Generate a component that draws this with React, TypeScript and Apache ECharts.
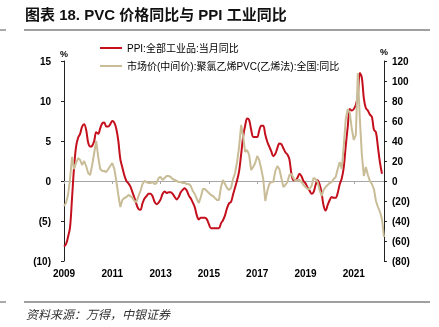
import React, { useEffect, useRef } from 'react';
import * as echarts from 'echarts';

// Monthly categories: Jul 2009 .. Oct 2022
const months: string[] = [];
for (let i = 0; i < 160; i++) {
  const y = 2009 + Math.floor((6 + i) / 12);
  const m = ((6 + i) % 12) + 1;
  months.push(`${y}-${m < 10 ? '0' + m : m}`);
}

const xTickLabels = ['2009', '2011', '2013', '2015', '2017', '2019', '2021'];
const leftTickLabels = ['(10)', '(5)', '0', '5', '10', '15'];
const rightTickLabels = ['(80)', '(60)', '(40)', '(20)', '0', '20', '40', '60', '80', '100', '120'];

const ppiName = 'PPI:全部工业品:当月同比';
const pvcName = '市场价(中间价):聚氯乙烯PVC(乙烯法):全国:同比';

// PPI yoy (%), Jul 2009 .. Sep 2022
const ppi = [
  -8.2, -7.9, -7.0, -5.8, -2.1, 1.7,
  4.3, 5.4, 5.9, 6.8, 7.1, 6.4, 4.8, 4.3, 4.4, 5.0, 6.1, 5.9,
  6.6, 7.2, 7.3, 6.8, 6.8, 7.1, 7.5, 7.3, 6.5, 5.0, 2.7, 1.7,
  0.7, 0.0, -0.3, -0.7, -1.4, -2.1, -2.9, -3.5, -3.6, -2.8, -2.2, -1.9,
  -1.6, -1.6, -1.9, -2.6, -2.9, -2.7, -2.3, -1.6, -1.3, -1.5, -1.4, -1.4,
  -1.6, -2.0, -2.3, -2.0, -1.4, -1.1, -0.9, -1.2, -1.8, -2.2, -2.7, -3.3,
  -4.3, -4.8, -4.6, -4.6, -4.6, -4.8, -5.4, -5.9, -5.9, -5.9, -5.9, -5.9,
  -5.3, -4.9, -4.3, -3.4, -2.8, -2.6, -1.7, -0.8, 0.1, 1.2, 3.3, 5.5,
  6.9, 7.8, 7.6, 6.4, 5.5, 5.5, 5.5, 6.3, 6.9, 6.9, 5.8, 4.9,
  4.3, 3.7, 3.1, 3.4, 4.1, 4.7, 4.6, 4.1, 3.6, 3.3, 2.7, 0.9,
  0.1, 0.1, 0.4, 0.9, 0.6, 0.0, -0.3, -0.8, -1.2, -1.6, -1.4, -0.5,
  0.1, -0.4, -1.5, -3.1, -3.7, -3.0, -2.4, -2.0, -2.1, -2.1, -1.5, -0.4,
  0.3, 1.7, 4.4, 6.8, 9.0, 8.8, 9.0, 9.5, 10.7, 13.5, 12.9, 10.3,
  9.1, 8.8, 8.3, 8.0, 6.4, 6.1, 4.2, 2.3, 0.9,
];

// PVC (ethylene method) market price yoy (%), Jul 2009 .. Oct 2022
const pvc = [
  -25, -22, -14, 2, 24, 12, 18, 23, 21, 16, 20, 15,
  8, 6, 16, 28, 40, 24, 12, 10, 10, 9, 12, 15,
  18, 12, 0, -14, -26, -19, -17, -16, -14, -15, -17, -20,
  -21, -15, -10, -3, 0, -1, -2, -2, -1, -3, -2, 3,
  4, 1, 3, 5, 5, 4, 2, 1, 0, -1, -1, -2,
  -2, -3, -3, -5, -10, -13, -18, -22, -16, -8, -8, -10,
  -12, -14, -15, -17, -19, -19, -6, 1, -3, -7, -9, -7,
  2, 8, 19, 34, 56, 45, 29, 31, 26, 11, 14, 18,
  25, 21, 12, 2, -20, -10, -3, -1, -1, 10, 15, 12,
  3, -6, -4, -1, 6, 7, 3, 0, 1, 1, -1, -4,
  -6, -8, -8, -5, 3, 2, -1, -9, -15, -9, -6, -4,
  -2, -1, 2, 4, 12, 19, 12, 35, 62, 72, 68, 52,
  41, 46, 108, 62, 26, 5, 14, 6, 0, -3, -8, -20,
  -26, -31, -38, -56,
];

const RED = '#C40F1C';
const TAN = '#C9BD98';
const LATIN = '"Liberation Sans", Arial, "Noto Sans CJK SC", sans-serif';

export default function App() {
  const ref = useRef<HTMLDivElement>(null);
  useEffect(() => {
    if (!ref.current) return;
    const chart = echarts.init(ref.current, undefined, { renderer: 'svg' });
    const axisLabelStyle = { fontSize: 10, fontWeight: 'bold' as const, color: '#000', fontFamily: LATIN };
    chart.setOption({
      animation: false,
      grid: { left: 64, right: 55, top: 61, bottom: 66, containLabel: false },
      legend: {
        orient: 'vertical',
        left: 100,
        top: 42,
        padding: 0,
        itemWidth: 22,
        itemHeight: 2,
        itemGap: 6,
        icon: 'rect',
        textStyle: { fontSize: 10, color: '#000', fontFamily: LATIN, lineHeight: 12 },
        data: [ppiName, pvcName],
      },
      xAxis: [
        {
          type: 'category',
          data: months,
          boundaryGap: false,
          position: 'bottom',
          axisLine: { show: false, onZero: false },
          axisTick: { show: false },
          axisLabel: {
            ...axisLabelStyle,
            interval: 23,
            margin: 7,
            formatter: (_v: string, i: number) => xTickLabels[Math.round(i / 24)] ?? '',
          },
          splitLine: { show: false },
        },
        {
          type: 'category',
          data: months,
          boundaryGap: false,
          position: 'bottom',
          axisLine: { show: true, onZero: true, lineStyle: { color: '#A6A6A6', width: 1 } },
          axisTick: { show: true, interval: 23, length: 3, inside: false, lineStyle: { color: '#A6A6A6' } },
          axisLabel: { show: false },
          splitLine: { show: false },
        },
      ],
      yAxis: [
        {
          type: 'value',
          min: -10,
          max: 15,
          interval: 5,
          position: 'left',
          name: '%',
          nameLocation: 'end',
          nameGap: 3,
          nameTextStyle: { fontSize: 9, fontWeight: 'bold', color: '#000', fontFamily: LATIN, align: 'center' },
          axisLine: { show: true, lineStyle: { color: '#222', width: 1 } },
          axisTick: { show: true, length: 3, inside: false, lineStyle: { color: '#222' } },
          axisLabel: {
            ...axisLabelStyle,
            margin: 13,
            formatter: (v: number) => leftTickLabels[Math.round((v + 10) / 5)] ?? '',
          },
          splitLine: { show: false },
        },
        {
          type: 'value',
          min: -80,
          max: 120,
          interval: 20,
          position: 'right',
          name: '%',
          nameLocation: 'end',
          nameGap: 3,
          nameTextStyle: { fontSize: 9, fontWeight: 'bold', color: '#000', fontFamily: LATIN, align: 'center' },
          axisLine: { show: true, lineStyle: { color: '#222', width: 1 } },
          axisTick: { show: true, length: 3, inside: false, lineStyle: { color: '#222' } },
          axisLabel: {
            ...axisLabelStyle,
            margin: 8,
            formatter: (v: number) => rightTickLabels[Math.round((v + 80) / 20)] ?? '',
          },
          splitLine: { show: false },
        },
      ],
      series: [
        {
          name: ppiName,
          type: 'line',
          xAxisIndex: 0,
          yAxisIndex: 0,
          data: ppi,
          smooth: 0.35,
          showSymbol: false,
          lineStyle: { color: RED, width: 2 },
          itemStyle: { color: RED },
        },
        {
          name: pvcName,
          type: 'line',
          xAxisIndex: 0,
          yAxisIndex: 1,
          data: pvc,
          showSymbol: false,
          lineStyle: { color: TAN, width: 2 },
          itemStyle: { color: TAN },
        },
      ],
      graphic: [
        {
          type: 'text',
          left: 25,
          top: 7,
          style: {
            text: '图表 18. PVC 价格同比与 PPI 工业同比',
            fontSize: 15,
            fontWeight: 'bold',
            fill: '#111',
            fontFamily: LATIN,
          },
        },
        { type: 'line', shape: { x1: 0, y1: 30, x2: 6, y2: 30 }, style: { stroke: '#555', lineWidth: 1 } },
        { type: 'line', shape: { x1: 24, y1: 30, x2: 430, y2: 30 }, style: { stroke: '#808080', lineWidth: 1.5 } },
        { type: 'line', shape: { x1: 0, y1: 302, x2: 6, y2: 302 }, style: { stroke: '#555', lineWidth: 1 } },
        { type: 'line', shape: { x1: 24, y1: 302, x2: 430, y2: 302 }, style: { stroke: '#808080', lineWidth: 1.5 } },
        {
          type: 'text',
          left: 26,
          top: 307,
          style: {
            text: '资料来源：万得，中银证券',
            fontSize: 12,
            fontStyle: 'italic',
            fill: '#333',
            fontFamily: '"Noto Sans CJK SC", sans-serif',
          },
        },
      ],
    });
    return () => chart.dispose();
  }, []);
  return <div ref={ref} style={{ position: 'fixed', left: 0, top: 0, width: 439, height: 327 }} />;
}
